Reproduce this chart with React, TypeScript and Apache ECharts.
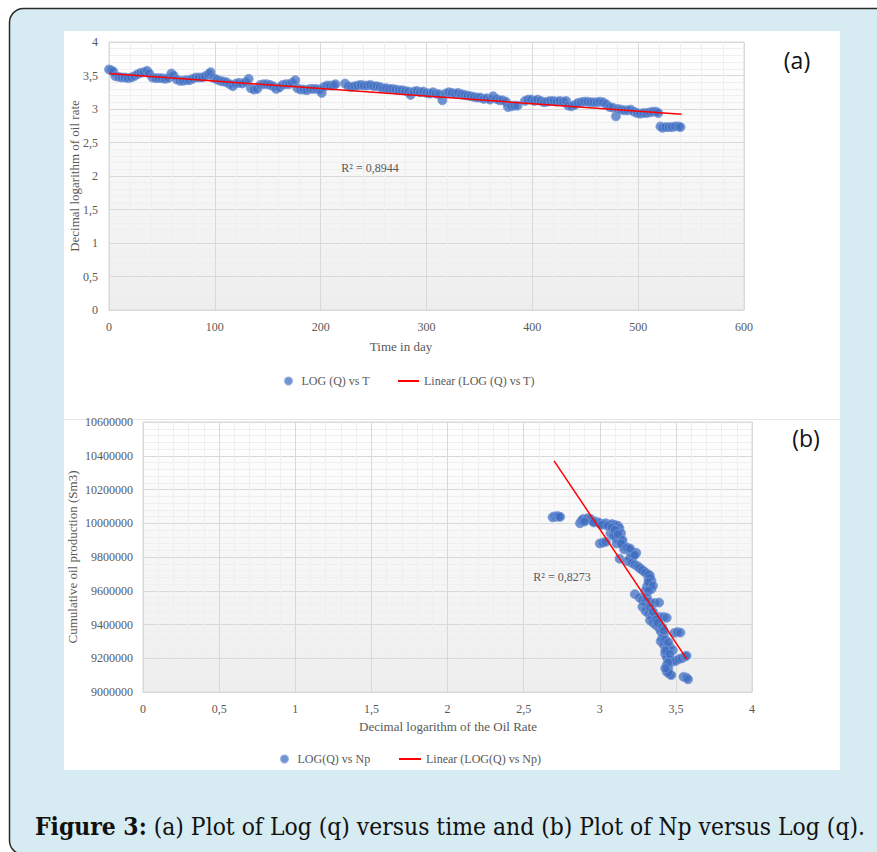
import React, { useEffect, useRef } from "react";
import * as echarts from "echarts";

// (a) log(q) vs time in day
const TIME_SERIES: [number, number][] = [
  [0, 3.59], [2, 3.58], [4, 3.56], [6, 3.49], [9, 3.48], [12, 3.47], [15, 3.47], [18, 3.46], [21, 3.47],
  [24, 3.49], [27, 3.52], [30, 3.54], [33, 3.55], [36, 3.57], [38, 3.53], [41, 3.47], [44, 3.46], [47, 3.46],
  [50, 3.46], [53, 3.45], [56, 3.46], [59, 3.53], [61, 3.5], [64, 3.44], [67, 3.42], [70, 3.42], [73, 3.43],
  [76, 3.43], [79, 3.45], [82, 3.47], [85, 3.47], [88, 3.47], [91, 3.49], [94, 3.52], [96, 3.55], [99, 3.46],
  [102, 3.44], [105, 3.42], [108, 3.41], [111, 3.4], [114, 3.37], [117, 3.34], [120, 3.38], [123, 3.39],
  [126, 3.38], [129, 3.4], [132, 3.45], [134, 3.31], [137, 3.29], [140, 3.3], [143, 3.36], [146, 3.37],
  [149, 3.37], [152, 3.36], [155, 3.34], [158, 3.3], [161, 3.32], [164, 3.36], [167, 3.37], [170, 3.37],
  [173, 3.39], [176, 3.43], [178, 3.31], [181, 3.29], [184, 3.29], [187, 3.28], [190, 3.3], [193, 3.3],
  [196, 3.3], [199, 3.29], [201, 3.24], [203, 3.33], [206, 3.35], [209, 3.35], [212, 3.35], [214, 3.37],
  [223, 3.38], [226, 3.34], [229, 3.33], [232, 3.34], [235, 3.35], [238, 3.36], [241, 3.35], [244, 3.35],
  [247, 3.36], [250, 3.34], [253, 3.34], [256, 3.33], [259, 3.31], [262, 3.31], [265, 3.3], [268, 3.3],
  [271, 3.29], [274, 3.28], [277, 3.28], [280, 3.27], [283, 3.26], [285, 3.21], [288, 3.26], [291, 3.27],
  [294, 3.25], [297, 3.26], [300, 3.24], [303, 3.23], [306, 3.25], [309, 3.23], [312, 3.22], [315, 3.13],
  [318, 3.23], [321, 3.25], [324, 3.24], [327, 3.23], [330, 3.24], [333, 3.22], [336, 3.21], [339, 3.2],
  [342, 3.19], [345, 3.18], [348, 3.17], [351, 3.17], [354, 3.15], [357, 3.16], [360, 3.14], [363, 3.19],
  [366, 3.15], [369, 3.13], [372, 3.13], [375, 3.11], [377, 3.03], [380, 3.04], [383, 3.05], [386, 3.05],
  [393, 3.12], [396, 3.14], [399, 3.14], [402, 3.12], [405, 3.14], [408, 3.12], [411, 3.1], [414, 3.11],
  [417, 3.12], [420, 3.12], [423, 3.11], [426, 3.12], [429, 3.11], [432, 3.12], [434, 3.05], [437, 3.04],
  [440, 3.06], [443, 3.09], [446, 3.1], [449, 3.11], [452, 3.11], [455, 3.1], [458, 3.1], [461, 3.1],
  [464, 3.11], [467, 3.1], [470, 3.07], [473, 3.03], [476, 3.02], [479, 2.89], [481, 3.0], [484, 2.99],
  [487, 2.98], [490, 2.98], [493, 2.99], [496, 2.96], [499, 2.94], [502, 2.93], [505, 2.94], [508, 2.94],
  [511, 2.95], [514, 2.96], [517, 2.96], [519, 2.94], [521, 2.74], [523, 2.72], [526, 2.73], [529, 2.73],
  [532, 2.73], [535, 2.74], [538, 2.74], [540, 2.73],
];
const TREND_TIME: [number, number][] = [[0, 3.53], [541, 2.92]];

// (b) Np vs log(q)
const NP_SERIES: [number, number][] = [
  [2.69, 10035000], [2.7, 10040000], [2.71, 10038000], [2.72, 10042000], [2.73, 10040000], [2.74, 10038000],
  [2.87, 10000000], [2.88, 10015000], [2.89, 10025000], [2.91, 10020000], [2.92, 10030000], [2.94, 10025000],
  [2.95, 10015000], [2.97, 10010000], [2.99, 10005000], [3.0, 10000000], [3.02, 9995000], [3.04, 10000000],
  [3.06, 9990000], [3.08, 9995000], [3.1, 9990000], [3.12, 9985000], [3.13, 9970000], [3.12, 9955000],
  [3.14, 9940000], [3.13, 9920000], [3.11, 9910000], [3.14, 9895000], [3.0, 9880000], [3.02, 9885000],
  [3.04, 9890000], [3.07, 9940000], [3.09, 9925000], [3.11, 9880000], [3.15, 9870000], [3.17, 9860000],
  [3.16, 9845000], [3.19, 9840000], [3.21, 9830000], [3.24, 9825000], [3.22, 9805000], [3.2, 9795000],
  [3.13, 9790000], [3.18, 9775000], [3.21, 9765000], [3.23, 9755000], [3.25, 9745000], [3.27, 9730000],
  [3.29, 9715000], [3.31, 9700000], [3.33, 9690000], [3.32, 9670000], [3.34, 9660000], [3.33, 9640000],
  [3.31, 9625000], [3.34, 9610000], [3.3, 9600000], [3.23, 9580000], [3.26, 9560000], [3.28, 9545000],
  [3.3, 9535000], [3.33, 9530000], [3.36, 9528000], [3.39, 9530000], [3.28, 9505000], [3.3, 9480000],
  [3.32, 9465000], [3.34, 9450000], [3.36, 9445000], [3.39, 9445000], [3.42, 9445000], [3.44, 9440000],
  [3.33, 9425000], [3.35, 9410000], [3.37, 9395000], [3.39, 9380000], [3.4, 9360000], [3.42, 9340000],
  [3.41, 9320000], [3.4, 9300000], [3.42, 9280000], [3.44, 9265000], [3.46, 9270000], [3.49, 9350000],
  [3.51, 9355000], [3.53, 9352000], [3.45, 9250000], [3.48, 9248000], [3.43, 9225000], [3.44, 9205000],
  [3.46, 9190000], [3.48, 9180000], [3.5, 9185000], [3.52, 9195000], [3.54, 9200000], [3.56, 9210000],
  [3.57, 9215000], [3.44, 9160000], [3.45, 9140000], [3.44, 9120000], [3.46, 9105000], [3.47, 9100000],
  [3.45, 9115000], [3.55, 9090000], [3.57, 9085000], [3.58, 9075000],
  [2.9, 10010000], [2.96, 10005000], [3.01, 9990000], [3.05, 9985000], [3.08, 9975000], [3.1, 9960000],
  [3.12, 9935000], [3.15, 9900000], [3.14, 9880000], [3.18, 9855000], [3.2, 9850000], [3.23, 9812000],
  [3.26, 9735000], [3.28, 9722000], [3.3, 9708000], [3.32, 9695000], [3.33, 9675000], [3.32, 9650000],
  [3.35, 9630000], [3.32, 9600000], [3.31, 9560000], [3.33, 9500000], [3.35, 9475000], [3.37, 9430000],
  [3.38, 9410000], [3.41, 9385000], [3.42, 9365000], [3.43, 9310000], [3.45, 9295000], [3.43, 9245000],
  [3.46, 9225000], [3.45, 9175000], [3.43, 9140000],
];
const TREND_NP: [number, number][] = [[2.7, 10370000], [3.572, 9195000]];

const NAME_A = "LOG (Q) vs T";
const NAME_A_TREND = "Linear (LOG (Q) vs T)";
const NAME_B = "LOG(Q) vs Np";
const NAME_B_TREND = "Linear (LOG(Q) vs Np)";
const R2_A = "R² = 0,8944";
const R2_B = "R² = 0,8273";
const TITLE_XA = "Time in day";
const TITLE_YA = "Decimal logarithm of oil rate";
const TITLE_XB = "Decimal logarithm of the Oil Rate";
const TITLE_YB = "Cumulative oil production (Sm3)";
const CAPTION = "{b|Figure 3:} (a) Plot of Log (q) versus time and (b) Plot of Np versus Log (q).";

const SERIF = "Liberation Serif";
const CAP_FONT = "'DejaVu Serif Condensed', 'DejaVu Serif', serif";
const LABEL = "#595959";
const MAJOR = "#d9d9d9";
const MINOR = "#efefef";

export default function App() {
  const ref = useRef<HTMLDivElement>(null);
  useEffect(() => {
    if (!ref.current) return;
    const chart = echarts.init(ref.current, undefined, { renderer: "svg" });
    const grad = () =>
      new echarts.graphic.LinearGradient(0, 0, 0, 1, [
        { offset: 0, color: "#ffffff" },
        { offset: 1, color: "#eeeeee" },
      ]);
    const comma = (v: number) => String(v).replace(".", ",");
    const axisCommon = {
      axisTick: { show: false },
      axisLabel: { color: LABEL, fontFamily: SERIF, fontSize: 12 },
      splitLine: { show: true, lineStyle: { color: MAJOR, width: 1 } },
      minorTick: { show: false, splitNumber: 5 },
      minorSplitLine: { show: true, lineStyle: { color: MINOR, width: 1 } },
    };
    const scatterStyle = {
      color: "rgba(62,108,192,0.92)",
      borderColor: "rgba(120,152,214,1)",
      borderWidth: 1,
    };
    const text = (x: number, y: number, t: string, extra: any = {}) => ({
      type: "text",
      x,
      y,
      z: 50,
      style: {
        text: t,
        fill: LABEL,
        font: `12px "${SERIF}"`,
        align: "center",
        verticalAlign: "middle",
        ...extra,
      },
    });
    const legendText = { color: LABEL, fontFamily: SERIF, fontSize: 12 };
    chart.setOption({
      animation: false,
      graphic: [
        {
          type: "rect",
          z: -20,
          shape: { x: 9.5, y: 8.5, width: 900, height: 846, r: 14 },
          style: { fill: "#d7ecf2", stroke: "#2b2b2b", lineWidth: 1.5 },
        },
        {
          type: "rect",
          z: -19,
          shape: { x: 64, y: 31, width: 776, height: 739 },
          style: { fill: "#ffffff" },
        },
        {
          type: "line",
          z: -18,
          shape: { x1: 64, y1: 419.5, x2: 840, y2: 419.5 },
          style: { stroke: "#e6e6e6", lineWidth: 1 },
        },
        text(401, 346, TITLE_XA, { font: `13px "${SERIF}"` }),
        { ...text(0, 0, TITLE_YA, { font: `13px "${SERIF}"` }), x: 74, y: 176, rotation: Math.PI / 2 },
        text(448, 726, TITLE_XB, { font: `13px "${SERIF}"` }),
        { ...text(0, 0, TITLE_YB, { font: `13px "${SERIF}"` }), x: 72, y: 557, rotation: Math.PI / 2 },
        text(370, 168, R2_A),
        text(562, 577, R2_B),
        text(797, 60, "(a)", { fill: "#111", font: '23px "Open Sans"' }),
        text(806, 438, "(b)", { fill: "#111", font: '23px "Open Sans"' }),
        {
          type: "text",
          x: 35,
          y: 826,
          z: 50,
          style: {
            text: CAPTION,
            fill: "#111",
            fontFamily: CAP_FONT,
            fontSize: 24.4,
            verticalAlign: "middle",
            rich: {
              b: { fontWeight: "bold", fontFamily: CAP_FONT, fontSize: 24.4, fill: "#111" },
            },
          },
        },
      ],
      legend: [
        {
          data: [{ name: NAME_A, icon: "circle" }],
          left: 284,
          top: 375,
          padding: 0,
          itemWidth: 16,
          itemHeight: 7,
          textStyle: legendText,
        },
        {
          data: [{ name: NAME_A_TREND, icon: "rect" }],
          left: 398,
          top: 375,
          padding: 0,
          itemWidth: 21,
          itemHeight: 2,
          textStyle: legendText,
        },
        {
          data: [{ name: NAME_B, icon: "circle" }],
          left: 280,
          top: 753,
          padding: 0,
          itemWidth: 16,
          itemHeight: 7,
          textStyle: legendText,
        },
        {
          data: [{ name: NAME_B_TREND, icon: "rect" }],
          left: 399,
          top: 753,
          padding: 0,
          itemWidth: 22,
          itemHeight: 2,
          textStyle: legendText,
        },
      ],
      grid: [
        {
          left: 109,
          right: 133,
          top: 42,
          bottom: 542,
          show: true,
          backgroundColor: grad(),
          borderColor: MAJOR,
          borderWidth: 1,
        },
        {
          left: 143,
          right: 125,
          top: 422,
          bottom: 160,
          show: true,
          backgroundColor: grad(),
          borderColor: MAJOR,
          borderWidth: 1,
        },
      ],
      xAxis: [
        {
          ...axisCommon,
          gridIndex: 0,
          type: "value",
          min: 0,
          max: 600,
          interval: 100,
          axisLine: { show: true, lineStyle: { color: MAJOR } },
          axisLabel: { ...axisCommon.axisLabel, margin: 11 },
        },
        {
          ...axisCommon,
          gridIndex: 1,
          type: "value",
          min: 0,
          max: 4,
          interval: 0.5,
          axisLine: { show: true, lineStyle: { color: MAJOR } },
          axisLabel: { ...axisCommon.axisLabel, margin: 11, formatter: comma },
        },
      ],
      yAxis: [
        {
          ...axisCommon,
          gridIndex: 0,
          type: "value",
          min: 0,
          max: 4,
          interval: 0.5,
          axisLine: { show: false },
          axisLabel: { ...axisCommon.axisLabel, margin: 11, formatter: comma },
        },
        {
          ...axisCommon,
          gridIndex: 1,
          type: "value",
          min: 9000000,
          max: 10600000,
          interval: 200000,
          axisLine: { show: false },
          axisLabel: { ...axisCommon.axisLabel, margin: 10, formatter: (v: number) => String(v) },
        },
      ],
      series: [
        {
          name: NAME_A,
          type: "scatter",
          xAxisIndex: 0,
          yAxisIndex: 0,
          data: TIME_SERIES,
          symbolSize: 9,
          itemStyle: scatterStyle,
          z: 3,
        },
        {
          name: NAME_A_TREND,
          type: "line",
          xAxisIndex: 0,
          yAxisIndex: 0,
          data: TREND_TIME,
          symbol: "none",
          lineStyle: { color: "#ff0000", width: 1.5 },
          itemStyle: { color: "#ff0000" },
          z: 4,
        },
        {
          name: NAME_B,
          type: "scatter",
          xAxisIndex: 1,
          yAxisIndex: 1,
          data: NP_SERIES,
          symbolSize: 9,
          itemStyle: scatterStyle,
          z: 3,
        },
        {
          name: NAME_B_TREND,
          type: "line",
          xAxisIndex: 1,
          yAxisIndex: 1,
          data: TREND_NP,
          symbol: "none",
          lineStyle: { color: "#ff0000", width: 1.5 },
          itemStyle: { color: "#ff0000" },
          z: 4,
        },
      ],
    });
    return () => chart.dispose();
  }, []);
  return (
    <div
      ref={ref}
      style={{ position: "absolute", left: 0, top: 0, width: 877, height: 852 }}
    />
  );
}
